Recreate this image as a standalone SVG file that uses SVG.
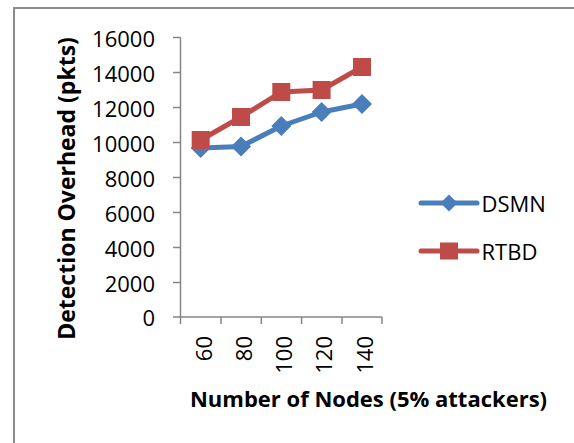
<svg xmlns="http://www.w3.org/2000/svg" width="574" height="443" viewBox="0 0 574 443">
<style>
.frame{fill:none;stroke:#8c8c8c;stroke-width:2}
.axis{fill:none;stroke:#868686;stroke-width:1.5}
.tick{font-family:"Open Sans","Liberation Sans",sans-serif;font-size:22px;fill:#000}
.title{font-family:"Open Sans","Liberation Sans",sans-serif;font-size:22px;font-weight:bold;fill:#000}
.blue{fill:none;stroke:#4A7EBB;stroke-width:5;stroke-linejoin:round;stroke-linecap:round}
.red{fill:none;stroke:#BE4B48;stroke-width:5;stroke-linejoin:round;stroke-linecap:round}
.dia{fill:#4A7EBB}
.sq{fill:#BE4B48}
</style>
<defs>
<polygon id="diamond" class="dia" points="0,-10 10,0 0,10 -10,0"/>
<rect id="square" class="sq" x="-9" y="-9" width="18" height="18"/>
</defs>
<rect class="frame" x="14" y="8" width="580" height="460"/>
<g id="y-axis">
<path class="axis" d="M180.5,37.5V317M173,37.5H180.5M173,72.5H180.5M173,107.5H180.5M173,142.5H180.5M173,177.5H180.5M173,212.5H180.5M173,247.5H180.5M173,282.5H180.5M173,317H180.5"/>
<g class="tick" text-anchor="end">
<text x="155" y="46.5">16000</text>
<text x="155" y="81.5">14000</text>
<text x="155" y="116.5">12000</text>
<text x="155" y="151.5">10000</text>
<text x="155" y="186.5">8000</text>
<text x="155" y="221.5">6000</text>
<text x="155" y="256.5">4000</text>
<text x="155" y="291.5">2000</text>
<text x="155" y="326">0</text>
</g>
<text class="title" style="font-size:23px" text-anchor="middle" transform="translate(74.5,188.5) rotate(-90)">Detection Overhead (pkts)</text>
</g>
<g id="x-axis">
<path class="axis" d="M180.5,317H382M180.5,317V324M221,317V324M261.3,317V324M301.6,317V324M342,317V324M382,317V324"/>
<g class="tick" text-anchor="end">
<text transform="translate(211.5,336) rotate(-90)">60</text>
<text transform="translate(251.8,336) rotate(-90)">80</text>
<text transform="translate(292.1,336) rotate(-90)">100</text>
<text transform="translate(332.4,336) rotate(-90)">120</text>
<text transform="translate(372.7,336) rotate(-90)">140</text>
</g>
<text class="title" text-anchor="middle" x="368.5" y="407">Number of Nodes (5% attackers)</text>
</g>
<g id="series-DSMN">
<polyline class="blue" points="200.7,148 241,146.5 281.3,126 321.6,112 362,104"/>
<use href="#diamond" x="200.7" y="148"/>
<use href="#diamond" x="241" y="146.5"/>
<use href="#diamond" x="281.3" y="126"/>
<use href="#diamond" x="321.6" y="112"/>
<use href="#diamond" x="362" y="104"/>
</g>
<g id="series-RTBD">
<polyline class="red" points="200.7,140 241,117 281.3,92 321.6,90 362,67"/>
<use href="#square" x="200.7" y="140"/>
<use href="#square" x="241" y="117"/>
<use href="#square" x="281.3" y="92"/>
<use href="#square" x="321.6" y="90"/>
<use href="#square" x="362" y="67"/>
</g>
<g id="legend">
<line class="blue" x1="421" y1="203" x2="477" y2="203"/>
<polygon class="dia" points="449,194.5 457.5,203 449,211.5 440.5,203"/>
<text class="tick" x="481.5" y="211.5">DSMN</text>
<line class="red" x1="421" y1="251" x2="477" y2="251"/>
<rect class="sq" x="440" y="242.5" width="18" height="17"/>
<text class="tick" x="481.5" y="260">RTBD</text>
</g>
</svg>
